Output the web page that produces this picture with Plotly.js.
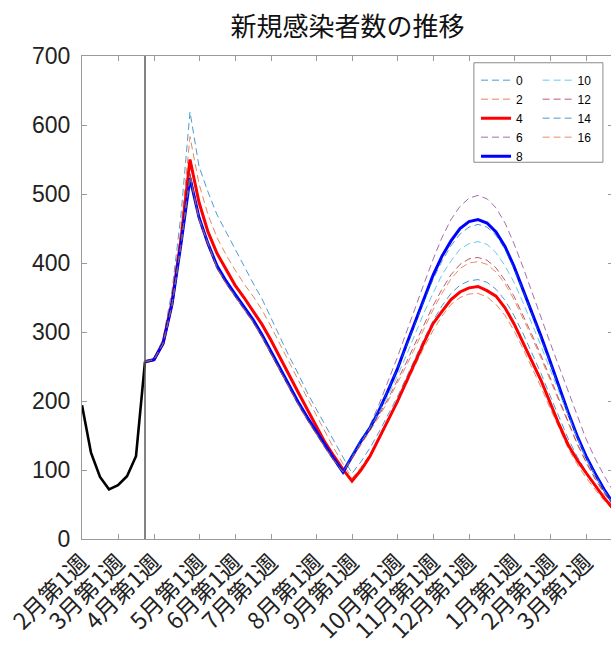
<!DOCTYPE html>
<html><head><meta charset="utf-8">
<script src="https://cdn.plot.ly/plotly-3.0.1.min.js"></script>
<style>html,body{margin:0;padding:0;overflow:hidden;width:611px;height:647px;background:#fff}#chart{width:616px;height:647px}</style>
</head><body><div id="chart"></div>
<script>
const chartTitle = '新規感染者数の推移';
const tickWeeks = [0, 4, 8, 13, 17, 21, 26, 30, 35, 39, 43, 48, 52, 56];
const tickLabels = ['2月第1週','3月第1週','4月第1週','5月第1週','6月第1週','7月第1週','8月第1週','9月第1週','10月第1週','11月第1週','12月第1週','1月第1週','2月第1週','3月第1週'];
const dividerWeek = 7;

const observedWeeks = [0, 1, 2, 3, 4, 5, 6, 7];
const observedValues = [194, 125, 90, 72, 78, 91, 120, 257];

const scenarioWeeks = [7,8,9,10,11,12,13,14,15,16,17,18,19,20,21,22,23,24,25,26,27,28,29,30,31,32,33,34,35,36,37,38,39,40,41,42,43,44,45,46,47,48,49,50,51,52,53,54,55,56,57,58,59];
const scenarioNames = ['0','2','4','6','8','10','12','14','16'];

const s0 = [257,261,290,360,470,619, 540,503,470,445,420,395,371,348,320,292, 265,240,213,189,165,142,119, 95,112,132,155,180,205,233,262,290,316, 338,356,368,374,376,372,362,346,324,298, 270,240,208,176,146,120,98,79,61,46];
const s2 = [257,260,287,350,450,583, 515,470,437,412,390,370,352,332,308,283, 257,231,205,180,155,131,109, 88,104,123,146,171,196,223,251,278,302, 323,340,350,355,356,351,340,324,302,276, 249,220,190,160,132,109,89,72,56,42];
const s4 = [257,260,284,343,435,550, 488,445,414,390,368,350,331,311,288,264, 238,213,188,163,140,120,101, 84,100,120,145,172,198,226,256,285,312, 330,347,358,364,366,360,352,335,312,285, 258,230,198,166,137,115,96,78,60,44];
const s6 = [257,260,283,339,428,530, 463,425,392,370,351,333,314,292,268,243, 218,195,173,152,132,113, 96,120,143,165,195,228,262,298,335,370,405, 437,463,482,494,498,493,480,458,428,394, 357,320,285,250,214,178,145,117,92,70];
const s8 = [257,260,283,340,428,523, 466,428,396,374,355,337,318,296,272,247, 222,199,177,156,136,116,97, 120,142,161,186,215,245,280,315,350,382, 410,432,450,460,463,458,445,424,395,362, 328,294,258,220,184,150,120,95,72,52];
const s10 = [257,260,283,339,427,527, 464,427,393,371,352,334,315,293,269,244, 219,196,174,153,133,114, 97,118,140,160,183,208,235,265,297,328,356, 383,403,420,428,431,427,415,396,372,343, 312,280,246,212,178,147,117,92,70,52];
const s12 = [257,260,283,339,427,528, 463,426,392,371,352,334,315,293,269,244, 219,196,174,153,133,114, 97,117,138,158,180,203,228,255,283,311,338, 362,383,398,406,408,404,393,375,352,325, 296,266,234,201,169,139,112,88,67,50];
const s14 = [257,260,283,340,428,524, 465,428,394,372,353,335,316,294,270,245, 220,197,175,154,134,115, 97,121,144,162,187,216,245,278,312,345,376, 403,425,442,452,456,452,440,420,392,360, 326,292,256,219,183,149,119,94,71,51];
const s16 = [257,260,283,339,427,526, 463,426,392,370,351,333,314,292,268,243, 218,195,173,152,132,113, 97,116,136,156,177,200,224,250,277,305,332, 356,377,392,400,402,398,387,370,347,320, 292,262,231,199,167,138,111,87,66,49];

const seriesValues = [s0, s2, s4, s6, s8, s10, s12, s14, s16];
const seriesColors = ['rgba(0,114,189,0.7)','rgba(217,83,25,0.7)','#ff0000','rgba(126,47,142,0.7)','#0000ff','rgba(77,190,238,0.85)','rgba(162,20,47,0.7)','rgba(0,114,189,0.7)','rgba(217,83,25,0.65)'];
const seriesSolid = [false,false,true,false,true,false,false,false,false];
const seriesLegend = ['legend','legend','legend','legend','legend','legend2','legend2','legend2','legend2'];

const traces = seriesValues.map((vals, i) => ({
  type: 'scatter', mode: 'lines', x: scenarioWeeks, y: vals, name: scenarioNames[i],
  legend: seriesLegend[i],
  line: {color: seriesColors[i], width: seriesSolid[i] ? 3 : 1, dash: seriesSolid[i] ? 'solid' : '7px,4px'},
  hoverinfo: 'skip'
}));
traces.push({type: 'scatter', mode: 'lines', x: observedWeeks, y: observedValues, showlegend: false,
  line: {color: '#000', width: 2.6}, hoverinfo: 'skip'});

const axisGray = '#9a9a9a';
const legendFont = {family: 'Liberation Sans, Arial, sans-serif', size: 12, color: '#000'};
const layout = {
  width: 616, height: 647,
  margin: {l: 82, r: 3, t: 56, b: 108},
  paper_bgcolor: '#fff', plot_bgcolor: '#fff',
  showlegend: true,
  title: {text: chartTitle, font: {family: 'Noto Sans CJK JP', size: 26, color: '#111'},
    x: 0.5, xref: 'paper', xanchor: 'center', y: 0.958, yref: 'container', yanchor: 'middle'},
  xaxis: {range: [0, 59], tickmode: 'array', tickvals: tickWeeks, ticktext: tickLabels, tickangle: -45,
    ticks: 'inside', ticklen: 5, tickcolor: axisGray, showline: true, linecolor: axisGray, linewidth: 1,
    mirror: 'ticks', showgrid: false, zeroline: false,
    tickfont: {family: 'Noto Sans CJK JP', size: 23, color: '#222'}},
  yaxis: {range: [0, 700], tickmode: 'linear', tick0: 0, dtick: 100,
    ticks: 'inside', ticklen: 5, tickcolor: axisGray, showline: true, linecolor: axisGray, linewidth: 1,
    mirror: 'ticks', showgrid: false, zeroline: false, ticklabelstandoff: 6,
    tickfont: {family: 'Liberation Sans, Arial, sans-serif', size: 23, color: '#222'}},
  legend: {x: 0.742, y: 0.98, xanchor: 'left', yanchor: 'top', bgcolor: 'rgba(0,0,0,0)', borderwidth: 0, font: legendFont},
  legend2: {x: 0.858, y: 0.98, xanchor: 'left', yanchor: 'top', bgcolor: 'rgba(0,0,0,0)', borderwidth: 0, font: legendFont},
  shapes: [
    {type: 'line', xref: 'x', yref: 'paper', x0: dividerWeek, x1: dividerWeek, y0: 0, y1: 1,
      line: {color: '#5a5a5a', width: 1.5}, layer: 'above'},
    {type: 'rect', xref: 'paper', yref: 'paper', x0: 0.738, x1: 0.981, y0: 0.78, y1: 0.986,
      line: {color: '#8a8a8a', width: 1}, fillcolor: '#fff', layer: 'above'}
  ]
};
Plotly.newPlot('chart', traces, layout, {displayModeBar: false, staticPlot: true});
</script></body></html>
